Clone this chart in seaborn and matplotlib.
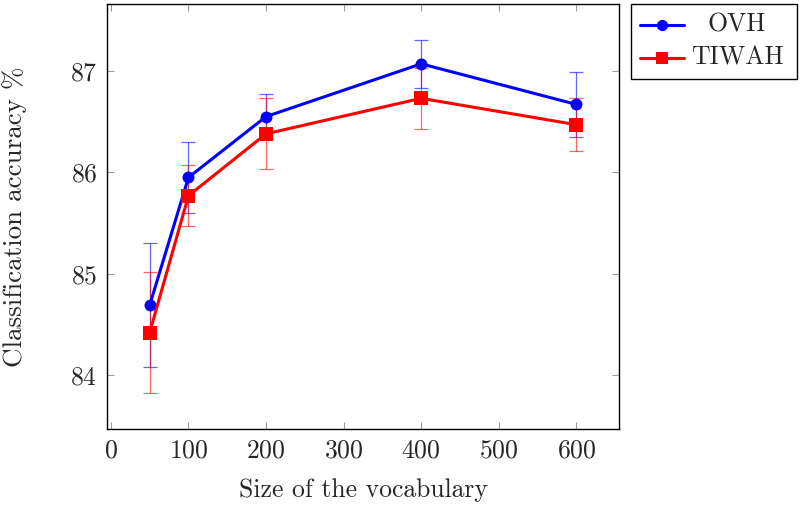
import pandas as pd
import matplotlib
matplotlib.use("Agg")
import matplotlib.pyplot as plt
import seaborn as sns
from matplotlib.lines import Line2D
from matplotlib.patches import Rectangle

# values
vocab = [50, 100, 200, 400, 600]
ovh_acc = [84.69, 85.95, 86.55, 87.07, 86.67]
ovh_err = [0.61, 0.35, 0.22, 0.24, 0.32]
tiwah_acc = [84.42, 85.77, 86.38, 86.73, 86.47]
tiwah_err = [0.60, 0.30, 0.35, 0.30, 0.26]
methods = ['OVH', 'TIWAH']

df = pd.DataFrame({
    'vocab': vocab * 2,
    'acc': ovh_acc + tiwah_acc,
    'err': ovh_err + tiwah_err,
    'method': [methods[0]] * len(vocab) + [methods[1]] * len(vocab),
})

sns.set_style("ticks")
plt.rcParams['font.family'] = 'serif'
plt.rcParams['font.serif'] = ['cmr10', 'DejaVu Serif']
plt.rcParams['mathtext.fontset'] = 'cm'
plt.rcParams['axes.formatter.use_mathtext'] = True

W, H = 800, 505
fig = plt.figure(figsize=(W / 100, H / 100), dpi=100)
ax = fig.add_axes([107 / W, 1 - 429 / H, 512 / W, 425 / H])

palette = {'OVH': (0, 0, 1), 'TIWAH': (1, 0, 0)}
markers = {'OVH': 'o', 'TIWAH': 's'}
msize = {'OVH': 8.6, 'TIWAH': 9.6}

# error bars first (thin, a bit transparent)
for name, sub in df.groupby('method'):
    ax.errorbar(sub['vocab'], sub['acc'], yerr=sub['err'], fmt='none',
                ecolor=palette[name], elinewidth=0.9, capsize=5, capthick=0.9,
                alpha=0.6, zorder=2)

sns.lineplot(data=df, x='vocab', y='acc', hue='method', style='method',
             palette=palette, markers=markers, dashes=False, linewidth=2.2,
             markersize=9, markeredgewidth=0, ax=ax, legend=False, zorder=3)
for line, name in zip(ax.lines[-2:], methods):
    line.set_markersize(msize[name])

ax.set_xlim(-5, 655)
ax.set_ylim(83.47, 87.66)
ax.set_xticks([0, 100, 200, 300, 400, 500, 600])
ax.set_yticks([84, 85, 86, 87])
ax.tick_params(direction='in', length=5, color='#999999', labelsize=18.5,
               top=True, right=True)
ax.tick_params(axis='y', pad=7)
ax.tick_params(axis='x', pad=7)
for s in ax.spines.values():
    s.set_linewidth(1.0)
    s.set_color('black')

ax.set_xlabel('Size of the vocabulary', fontsize=18.5, va='baseline')
ax.xaxis.set_label_coords(0.5, (429 - 497) / 425)
ax.set_ylabel('Classification accuracy %', fontsize=19.5, va='baseline',
              rotation_mode='anchor')
ax.yaxis.set_label_coords((22 - 107) / 512, 0.5)

# legend box outside the axes, text centred like the original
def fx(px):
    return px / W

def fy(py):
    return 1 - py / H

fig.patches.append(Rectangle((fx(631), fy(79)), fx(797) - fx(631), fy(4) - fy(79),
                             transform=fig.transFigure, fill=True, facecolor='white',
                             edgecolor='black', linewidth=1.0))
for name, ry in zip(methods, [25, 58]):
    fig.add_artist(Line2D([fx(640), fx(684)], [fy(ry), fy(ry)], transform=fig.transFigure,
                          color=palette[name], lw=2.2))
    fig.add_artist(Line2D([fx(662)], [fy(ry)], transform=fig.transFigure,
                          color=palette[name], marker=markers[name],
                          markersize=msize[name] - 0.5, markeredgewidth=0, lw=0))
    fig.text(fx(737), fy(ry), name, ha='center', va='center', fontsize=18.5)

fig.savefig('out.png', dpi=100)
